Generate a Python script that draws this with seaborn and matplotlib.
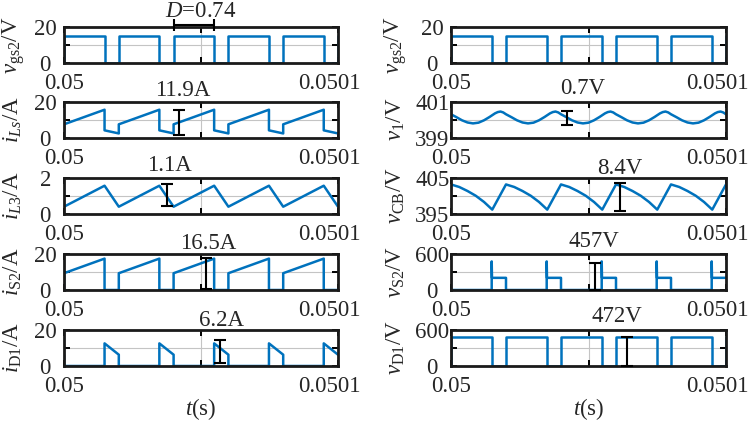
import matplotlib
matplotlib.use("Agg")
import matplotlib.pyplot as plt
from matplotlib.transforms import ScaledTranslation
import numpy as np
import pandas as pd
import seaborn as sns

# ---------------- data (time in microseconds after t = 0.05 s) ----------------
vgs2_t = [0, 0, 14.8, 14.8, 20, 20, 34.8, 34.8, 40, 40, 54.8, 54.8, 60, 60, 74.8, 74.8, 80, 80, 94.8, 94.8, 100, 100]
vgs2_v = [0, 15, 15, 0, 0, 15, 15, 0, 0, 15, 15, 0, 0, 15, 15, 0, 0, 15, 15, 0, 0, 15]

iLs_t = [0, 0, 14.8, 14.8, 20, 20, 34.8, 34.8, 40, 40, 54.8, 54.8, 60, 60, 74.8, 74.8, 80, 80, 94.8, 94.8, 100]
iLs_v = [2.5, 7.5, 15.5, 4.2, 2.5, 7.5, 15.5, 4.2, 2.5, 7.5, 15.5, 4.2, 2.5, 7.5, 15.5, 4.2, 2.5, 7.5, 15.5, 4.2, 2.5]

iL3_t = [0, 14.8, 20, 34.8, 40, 54.8, 60, 74.8, 80, 94.8, 100]
iL3_v = [0.4, 1.55, 0.4, 1.55, 0.4, 1.55, 0.4, 1.55, 0.4, 1.55, 0.4]

iS2_t = [0, 0, 14.8, 14.8, 20, 20, 34.8, 34.8, 40, 40, 54.8, 54.8, 60, 60, 74.8, 74.8, 80, 80, 94.8, 94.8, 100]
iS2_v = [0, 9.2, 17.2, 0, 0, 9.2, 17.2, 0, 0, 9.2, 17.2, 0, 0, 9.2, 17.2, 0, 0, 9.2, 17.2, 0, 0]

iD1_t = [0, 0, 14.8, 14.8, 20, 20, 34.8, 34.8, 40, 40, 54.8, 54.8, 60, 60, 74.8, 74.8, 80, 80, 94.8, 94.8, 100]
iD1_v = [6.2, 0, 0, 12.4, 6.2, 0, 0, 12.4, 6.2, 0, 0, 12.4, 6.2, 0, 0, 12.4, 6.2, 0, 0, 12.4, 6.2]

v1_t = [0, 2, 4, 6, 8, 10, 12, 14, 16, 17, 18, 19,
        20, 22, 24, 26, 28, 30, 32, 34, 36, 37, 38, 39,
        40, 42, 44, 46, 48, 50, 52, 54, 56, 57, 58, 59,
        60, 62, 64, 66, 68, 70, 72, 74, 76, 77, 78, 79,
        80, 82, 84, 86, 88, 90, 92, 94, 96, 97, 98, 99, 100]
v1_v = [400.30, 400.14, 399.97, 399.85, 399.80, 399.84, 399.97, 400.15, 400.35, 400.42, 400.45, 400.40,
        400.30, 400.14, 399.97, 399.85, 399.80, 399.84, 399.97, 400.15, 400.35, 400.42, 400.45, 400.40,
        400.30, 400.14, 399.97, 399.85, 399.80, 399.84, 399.97, 400.15, 400.35, 400.42, 400.45, 400.40,
        400.30, 400.14, 399.97, 399.85, 399.80, 399.84, 399.97, 400.15, 400.35, 400.42, 400.45, 400.40,
        400.30, 400.14, 399.97, 399.85, 399.80, 399.84, 399.97, 400.15, 400.35, 400.42, 400.45, 400.40, 400.30]

vCB_t = [0, 3, 6, 9, 12, 15,
         20, 23, 26, 29, 32, 35,
         40, 43, 46, 49, 52, 55,
         60, 63, 66, 69, 72, 75,
         80, 83, 86, 89, 92, 95, 100]
vCB_v = [403.1, 402.4, 401.3, 400.0, 398.3, 396.2,
         403.1, 402.4, 401.3, 400.0, 398.3, 396.2,
         403.1, 402.4, 401.3, 400.0, 398.3, 396.2,
         403.1, 402.4, 401.3, 400.0, 398.3, 396.2,
         403.1, 402.4, 401.3, 400.0, 398.3, 396.2, 403.1]

vS2_t = [0, 0, 14.8, 14.8, 14.9, 20, 20, 34.8, 34.8, 34.9, 40, 40, 54.8, 54.8, 54.9, 60, 60,
         74.8, 74.8, 74.9, 80, 80, 94.8, 94.8, 94.9, 100]
vS2_v = [200, 0, 0, 470, 200, 200, 0, 0, 470, 200, 200, 0, 0, 470, 200, 200, 0,
         0, 470, 200, 200, 0, 0, 470, 200, 200]

vD1_t = [0, 0, 14.8, 14.8, 20, 20, 34.8, 34.8, 40, 40, 54.8, 54.8, 60, 60, 74.8, 74.8, 80, 80, 94.8, 94.8, 100, 100]
vD1_v = [0, 470, 470, 0, 0, 470, 470, 0, 0, 470, 470, 0, 0, 470, 470, 0, 0, 470, 470, 0, 0, 470]

# ripple markers: (time, low, high) and their labels (label time)
ripple_left = [(42.0, 1.5, 15.6), (37.5, 0.42, 1.65), (52.0, 0.5, 17.3), (57.0, 1.4, 14.3)]
ripple_left_text = ["11.9A", "1.1A", "16.5A", "6.2A"]
ripple_left_text_t = [43.2, 38.3, 52.7, 57.4]
ripple_right = [(42.0, 399.72, 400.5), (61.5, 395.8, 403.4), (52.4, 0, 445), (63.9, 0, 480)]
ripple_right_text = ["0.7V", "8.4V", "457V", "472V"]
ripple_right_text_t = [47.7, 61.3, 52.0, 60.5]
duty_bar = (40.0, 54.8, 20.6)
duty_text = "$D$=0.74"
duty_text_t = 49.9

x_ticklabels = ["0.05", "", "0.0501"]
t0 = 0.05

# ---------------- style ----------------
sns.set_style("ticks")
plt.rcParams["font.family"] = ["Liberation Serif", "DejaVu Serif"]
plt.rcParams["mathtext.fontset"] = "custom"
plt.rcParams["mathtext.rm"] = "Liberation Serif"
plt.rcParams["mathtext.it"] = "Liberation Serif:italic"
plt.rcParams["mathtext.bf"] = "Liberation Serif:bold"

FS = 16.5
BLUE = "#0072BD"

fig = plt.figure(figsize=(7.49, 4.21), dpi=100)
W, H = 749.0, 421.0
row_tops = [26.5, 101.5, 177.5, 253.5, 329.5]
ax_h = 36.5
col_left = [64.0, 451.0]
col_w = [274.0, 275.0]

left_panels = [
    (vgs2_t, vgs2_v, (0, 20), r"$v_{\rm gs2}$/V", ["0", "", "20"]),
    (iLs_t, iLs_v, (0, 20), r"$i_{Ls}$/A", ["0", "", "20"]),
    (iL3_t, iL3_v, (0, 2), r"$i_{L3}$/A", ["0", "", "2"]),
    (iS2_t, iS2_v, (0, 20), r"$i_{\rm S2}$/A", ["0", "", "20"]),
    (iD1_t, iD1_v, (0, 20), r"$i_{\rm D1}$/A", ["0", "", "20"]),
]
right_panels = [
    (vgs2_t, vgs2_v, (0, 20), r"$v_{\rm gs2}$/V", ["0", "", "20"]),
    (v1_t, v1_v, (399, 401), r"$v_{\rm 1}$/V", ["399", "", "401"]),
    (vCB_t, vCB_v, (395, 405), r"$v_{\rm CB}$/V", ["395", "", "405"]),
    (vS2_t, vS2_v, (0, 600), r"$v_{\rm S2}$/V", ["0", "", "600"]),
    (vD1_t, vD1_v, (0, 600), r"$v_{\rm D1}$/V", ["0", "", "600"]),
]

def make_ax(col, row):
    top = row_tops[row]
    rect = [col_left[col] / W, 1 - (top + ax_h) / H, col_w[col] / W, ax_h / H]
    return fig.add_axes(rect)

def style_ax(ax, ylim, ylabels, ylabel, label_x, last):
    ax.set_xlim(t0, t0 + 100e-6)
    ax.set_ylim(*ylim)
    ax.set_xticks([t0, t0 + 50e-6, t0 + 100e-6])
    ax.set_xticklabels(x_ticklabels)
    ax.set_yticks([ylim[0], (ylim[0] + ylim[1]) / 2, ylim[1]])
    ax.set_yticklabels(ylabels)
    for lbl in ax.get_yticklabels():
        lbl.set_horizontalalignment("center")
    ax.tick_params(axis="both", direction="in", length=4, width=1.4, color="k",
                   top=True, right=True, labelsize=FS)
    ax.tick_params(axis="y", pad=13.5)
    ax.tick_params(axis="x", pad=7.2)
    xl = ax.get_xticklabels()[2]
    xl.set_transform(xl.get_transform() + ScaledTranslation(-0.09, 0, fig.dpi_scale_trans))
    for sp in ax.spines.values():
        sp.set_visible(True)
        sp.set_linewidth(2.0)
        sp.set_color("#1a1a1a")
    ax.grid(True, color="#c4c4c4", linewidth=0.8)
    ax.set_axisbelow(True)
    ax.set_ylabel(ylabel, fontsize=FS, va="center")
    ax.yaxis.set_label_coords(label_x, 0.5)
    if last:
        ax.set_xlabel(r"$t$(s)", fontsize=FS, va="center")
        ax.xaxis.set_label_coords(0.5, -(409 - (row_tops[4] + ax_h)) / ax_h)
    else:
        ax.set_xlabel("")

def plot_series(ax, ts, vs):
    df = pd.DataFrame({"t": [t0 + x * 1e-6 for x in ts], "v": vs})
    sns.lineplot(data=df, x="t", y="v", ax=ax, sort=False, estimator=None,
                 color=BLUE, linewidth=1.8)

def ripple(ax, r):
    t, lo, hi = r
    ax.errorbar([t0 + t * 1e-6], [(lo + hi) / 2], yerr=[(hi - lo) / 2], fmt="none",
                ecolor="k", elinewidth=1.5, capsize=4.5, capthick=1.5, clip_on=False, zorder=5)

def label(ax, t, text, dy_px):
    ax.annotate(text, xy=(t0 + t * 1e-6, 1.0), xycoords=("data", "axes fraction"),
                xytext=(0, dy_px * 72 / 100.0), textcoords="offset points",
                ha="center", va="center", fontsize=FS)

left_dy = [11.5, 11.8, 10.2, 9.5]
right_dy = [13.2, 9.2, 11.8, 12.8]

for row, (ts, vs, ylim, ylabel, ylabels) in enumerate(left_panels):
    ax = make_ax(0, row)
    plot_series(ax, ts, vs)
    style_ax(ax, ylim, ylabels, ylabel, -0.185, row == 4)
    if row == 0:
        xa, xb, yb = duty_bar
        ax.errorbar([t0 + (xa + xb) / 2 * 1e-6], [yb], xerr=[(xb - xa) / 2 * 1e-6], fmt="none",
                    ecolor="k", elinewidth=1.5, capsize=4, capthick=1.5, clip_on=False, zorder=5)
        label(ax, duty_text_t, duty_text, 14.8)
    else:
        ripple(ax, ripple_left[row - 1])
        label(ax, ripple_left_text_t[row - 1], ripple_left_text[row - 1], left_dy[row - 1])

for row, (ts, vs, ylim, ylabel, ylabels) in enumerate(right_panels):
    ax = make_ax(1, row)
    plot_series(ax, ts, vs)
    style_ax(ax, ylim, ylabels, ylabel, -0.2, row == 4)
    if row > 0:
        ripple(ax, ripple_right[row - 1])
        label(ax, ripple_right_text_t[row - 1], ripple_right_text[row - 1], right_dy[row - 1])

fig.savefig("out.png", dpi=100)
